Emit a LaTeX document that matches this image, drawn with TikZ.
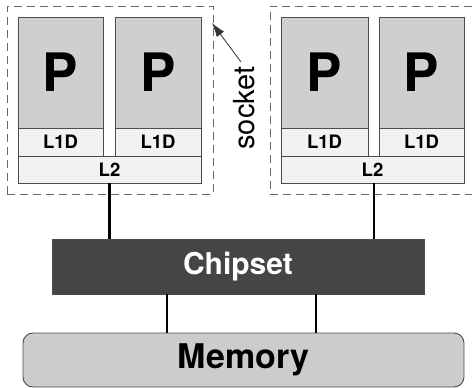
\documentclass[tikz,border=0pt]{standalone}
\usepackage{fontspec}
\setmainfont{TeX Gyre Heros}
\usetikzlibrary{arrows.meta}
\begin{document}
\begin{tikzpicture}[x=1pt,y=-1pt,
  sockbox/.style={draw=black!60,dash pattern=on 8pt off 5pt,line width=0.9pt,inner sep=0pt},
  procbox/.style={draw=black!70,fill=black!19,line width=0.9pt,inner sep=0pt,font=\fontsize{53}{53}\bfseries\selectfont},
  cachebox/.style={draw=black!70,fill=black!5,line width=0.9pt,inner sep=0pt,font=\fontsize{18.5}{19}\bfseries\selectfont},
  chipbox/.style={draw=black!70,fill=black!73,text=white,line width=0.9pt,inner sep=0pt,font=\fontsize{30}{30}\bfseries\selectfont},
  membox/.style={draw=black!70,fill=black!20,line width=0.9pt,rounded corners=10pt,inner sep=0pt,font=\fontsize{34}{34}\bfseries\selectfont},
  wire/.style={line width=2.8pt,black},
  lbl/.style={font=\fontsize{29}{29}\selectfont,inner sep=1pt}
]
\useasboundingbox (0,0) rectangle (472,388);
% sockets
\node[sockbox,minimum width=206pt,minimum height=188pt] (sockA) at (110,100) {};
\node[sockbox,minimum width=215pt,minimum height=188pt] (sockB) at (377.5,100) {};
% left socket
\node[procbox,minimum width=85pt,minimum height=111pt] (PA1) at (60.5,72.5) {P};
\node[cachebox,minimum width=85pt,minimum height=28pt] (LA1) at (60.5,142) {L1D};
\node[procbox,minimum width=86pt,minimum height=111pt] (PA2) at (158,72.5) {P};
\node[cachebox,minimum width=86pt,minimum height=28pt] (LA2) at (158,142) {L1D};
\node[cachebox,minimum width=183pt,minimum height=27pt] (L2A) at (109.5,169.5) {L2};
% right socket
\node[procbox,minimum width=87pt,minimum height=111pt] (PB1) at (324.5,72.5) {P};
\node[cachebox,minimum width=87pt,minimum height=28pt] (LB1) at (324.5,142) {L1D};
\node[procbox,minimum width=85pt,minimum height=111pt] (PB2) at (421.5,72.5) {P};
\node[cachebox,minimum width=85pt,minimum height=28pt] (LB2) at (421.5,142) {L1D};
\node[cachebox,minimum width=183pt,minimum height=27pt] (L2B) at (372.5,169.5) {L2};
% chipset and memory
\node[chipbox,minimum width=372pt,minimum height=55pt] (chip) at (238,266.5) {Chipset};
\node[membox,minimum width=441pt,minimum height=54pt] (mem) at (243.5,360) {Memory};
% wires
\draw[wire] (L2A.south) -- (L2A.south |- chip.north);
\coordinate (rb) at (374,0);
\draw[wire] (rb |- L2B.south) -- (rb |- chip.north);
\coordinate (m1) at (167,0);
\coordinate (m2) at (316,0);
\draw[wire] (m1 |- chip.south) -- (m1 |- mem.north);
\draw[wire] (m2 |- chip.south) -- (m2 |- mem.north);
% socket label
\node[lbl,rotate=90] (slab) at (244,108) {socket};
\coordinate (tip) at (212,23);
\coordinate (tail) at (241,62);
\draw[line width=0.8pt,black!80,-{Latex[length=14pt,width=9pt]}] (tail) -- (tip);
\end{tikzpicture}
\end{document}
